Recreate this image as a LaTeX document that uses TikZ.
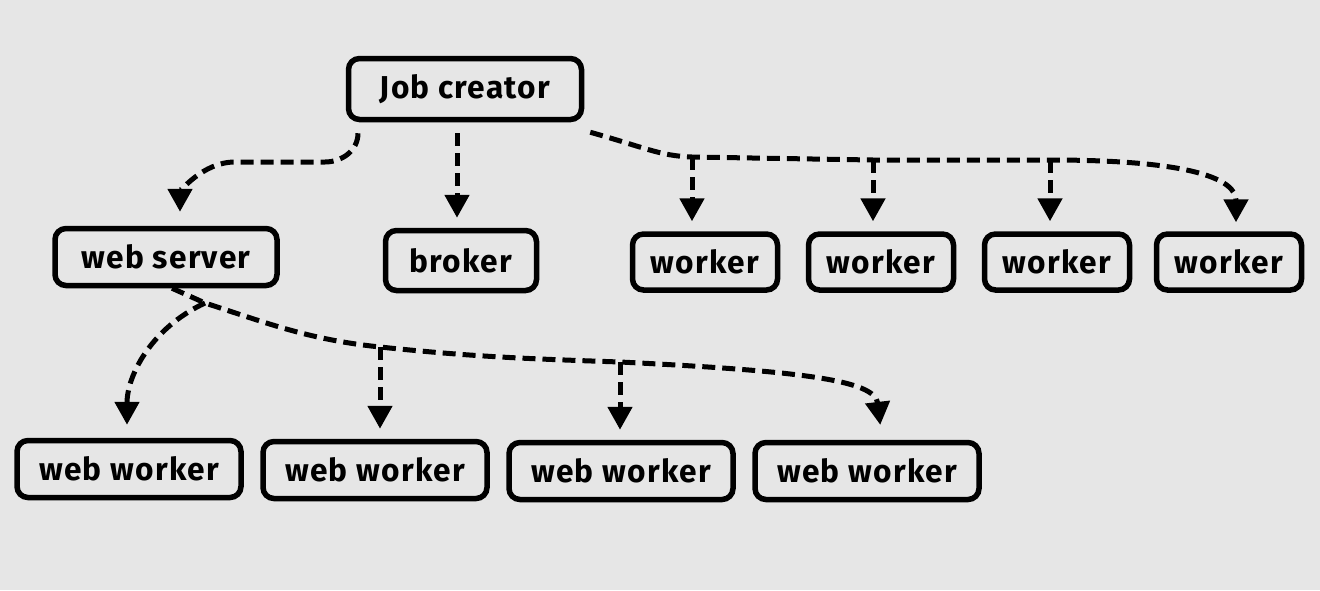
\documentclass[tikz,border=0pt]{standalone}
\usepackage{fontspec}
\setmainfont[LetterSpace=4]{Fira Sans}
\usetikzlibrary{arrows.meta}
\definecolor{bggray}{HTML}{E6E6E6}

\begin{document}
\begin{tikzpicture}[
        box/.style={shape=rectangle,draw=black,line width=0.11cm,rounded corners=0.22cm,inner sep=0pt,font=\fontsize{18}{20}\selectfont\bfseries},
        bigbox/.style={box,minimum width=4.46cm,minimum height=1.14cm},
        smallbox/.style={box,minimum width=2.9cm,minimum height=1.12cm},
        link/.style={line width=0.1cm,dash pattern=on 0.26cm off 0.14cm,-{Triangle[width=0.48cm,length=0.46cm]},shorten >=0.2cm}
        ]
        \fill[bggray] (0,0) rectangle (26.4,-11.8);
        \useasboundingbox (0,0) rectangle (26.4,-11.8);

        \node[box,minimum width=4.66cm,minimum height=1.22cm] (jobc) at (9.30,-1.78) {Job creator};
        \node[bigbox,minimum width=4.44cm] (websrv) at (3.32,-5.14) {web server};
        \node[box,minimum width=3.02cm,minimum height=1.2cm] (broker) at (9.22,-5.21) {broker};
        \node[smallbox] (w1) at (14.10,-5.24) {worker};
        \node[smallbox] (w2) at (17.62,-5.24) {worker};
        \node[smallbox] (w3) at (21.14,-5.24) {worker};
        \node[smallbox] (w4) at (24.58,-5.24) {worker};
        \node[bigbox,minimum width=4.48cm] (ww1) at (2.58,-9.38) {web worker};
        \node[bigbox,minimum width=4.48cm] (ww2) at (7.50,-9.40) {web worker};
        \node[bigbox,minimum width=4.48cm] (ww3) at (12.42,-9.42) {web worker};
        \node[bigbox,minimum width=4.48cm] (ww4) at (17.34,-9.42) {web worker};

        % job creator
        \draw[link,shorten >=0.28cm] ([xshift=-2.14cm,yshift=-0.22cm]jobc.south) to[out=-90,in=0] (6.5,-3.24) -- (4.7,-3.24) to[out=180,in=90] ([xshift=0.28cm]websrv.north);
        \draw[link,shorten <=0.22cm] ([xshift=-0.16cm]jobc.south) -- ([xshift=-0.16cm]jobc.south |- broker.north);
        \coordinate (ja) at (13.84,-3.14);
        \coordinate (jb) at (17.46,-3.2);
        \coordinate (jc) at (21.0,-3.2);
        \draw[link,shorten >=0.18cm] ([xshift=0.12cm,yshift=-0.2cm]jobc.south east) .. controls (12.9,-2.95) and (13.2,-3.12) .. (ja) -- (jb) -- (jc) .. controls (23.9,-3.2) and (24.72,-3.6) .. ([xshift=0.14cm]w4.north);
        \draw[link] (ja) -- (ja |- w1.north);
        \draw[link] (jb) -- (jb |- w2.north);
        \draw[link] (jc) -- (jc |- w3.north);

        % web server
        \coordinate (wa) at (4.1,-6.06);
        \coordinate (wb) at (7.6,-6.94);
        \coordinate (wc) at (12.4,-7.24);
        \draw[link,shorten >=0.3cm] ([xshift=0.12cm]websrv.south) -- (wa) to[out=-18,in=174] (wb) to[out=-6,in=178] (wc) .. controls (16.0,-7.42) and (17.5,-7.6) .. ([xshift=0.3cm]ww4.north);
        \draw[link,shorten >=0.26cm] (wa) to[out=205,in=90] ([xshift=-0.04cm]ww1.north);
        \draw[link] (wb) -- (wb |- ww2.north);
        \draw[link] (wc) -- (wc |- ww3.north);

        \end{tikzpicture}
\end{document}
